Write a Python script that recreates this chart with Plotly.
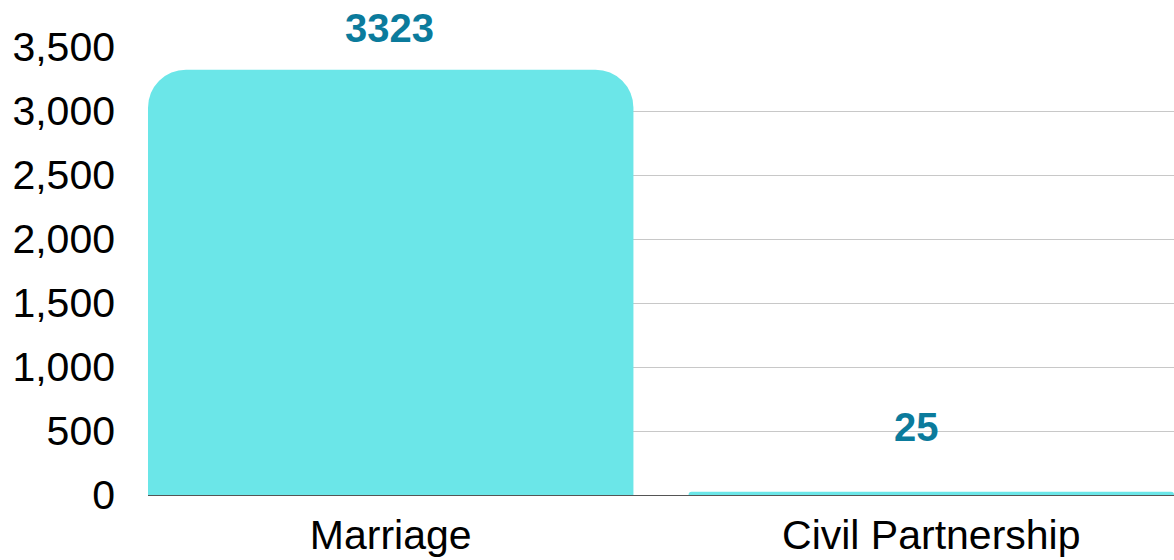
import plotly.graph_objects as go

categories = ["Marriage", "Civil Partnership"]
values = [3323, 25]
value_labels = ["3323", "25"]
label_xshift = [-1, -15]
label_yshift = [42, 65]
y_tickvals = [0, 500, 1000, 1500, 2000, 2500, 3000, 3500]
y_ticktext = ["0", "500", "1,000", "1,500", "2,000", "2,500", "3,000", "3,500"]

BAR_COLOR = "#6be6e8"
LABEL_COLOR = "#0b7b9c"
FONT = "Liberation Sans, Arial, sans-serif"
BAR_WIDTH = 0.898

fig = go.Figure()
fig.add_trace(go.Bar(
    x=categories,
    y=values,
    marker=dict(color=BAR_COLOR, line=dict(width=0), cornerradius=38),
    width=BAR_WIDTH,
    hoverinfo="skip",
))

for c, v, t, dx, dy in zip(categories, values, value_labels, label_xshift, label_yshift):
    fig.add_annotation(
        x=c, y=v, text=f"<b>{t}</b>", showarrow=False,
        yanchor="middle", xshift=dx, yshift=dy,
        font=dict(family=FONT, size=40, color=LABEL_COLOR),
    )

fig.update_layout(
    width=1174, height=560,
    margin=dict(l=148, r=0, t=47, b=65, autoexpand=False),
    paper_bgcolor="white", plot_bgcolor="white",
    showlegend=False,
    font=dict(family=FONT, size=41, color="#000000"),
)
fig.update_xaxes(
    type="category",
    range=[-BAR_WIDTH / 2, 1 + BAR_WIDTH / 2],
    automargin=False,
    showline=True, linecolor="#555555", linewidth=1,
    layer="below traces",
    showgrid=False, ticks="",
    ticklabelstandoff=4,
    tickfont=dict(family=FONT, size=41, color="#000000"),
)
fig.update_yaxes(
    range=[0, 3500],
    automargin=False,
    tickvals=y_tickvals, ticktext=y_ticktext,
    showgrid=True, gridcolor="#c8c8c8", gridwidth=1,
    zeroline=False, showline=False,
    ticks="", ticklabelstandoff=32,
    tickfont=dict(family=FONT, size=41, color="#000000"),
)

fig.write_html(
    "out.html",
    config={"displayModeBar": False},
    post_script="document.body.style.margin='0';document.body.style.overflow='hidden';",
)
